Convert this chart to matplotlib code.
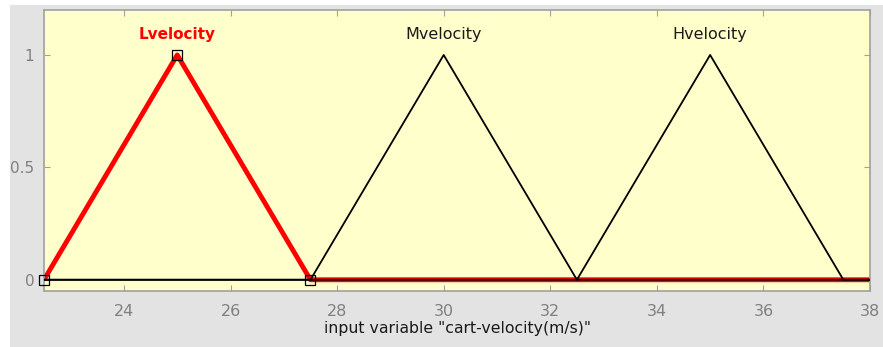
import numpy as np
import matplotlib.pyplot as plt
from matplotlib.patches import Rectangle

# membership function parameters (trimf a, b, c)
mf_names = ["Lvelocity", "Mvelocity", "Hvelocity"]
mf_params = [[22.5, 25.0, 27.5], [27.5, 30.0, 32.5], [32.5, 35.0, 37.5]]
x_range = [22.5, 38.0]
x_ticks = [24, 26, 28, 30, 32, 34, 36, 38]
y_ticks = [0, 0.5, 1]
selected = 0

fig = plt.figure(figsize=(8.83, 3.47), dpi=100, facecolor="#e3e3e3")
# white strips at left and top
fig.patches.append(Rectangle((0, 0), 10 / 883, 1, transform=fig.transFigure,
                             facecolor="white", edgecolor="none", zorder=0))
fig.patches.append(Rectangle((0, 1 - 5 / 347), 1, 5 / 347, transform=fig.transFigure,
                             facecolor="white", edgecolor="none", zorder=0))

ax = fig.add_axes([44 / 883, 56 / 347, 826 / 883, 281 / 347])
ax.set_facecolor("#ffffcc")


def trimf(x, p):
    a, b, c = p
    return np.maximum(np.minimum((x - a) / (b - a), (c - x) / (c - b)), 0)


x = np.unique(np.concatenate([np.linspace(x_range[0], x_range[1], 400),
                              np.ravel(mf_params)]))

# selected MF first (thick red), others on top (thin black)
ax.plot(x, trimf(x, mf_params[selected]), color="#ff0000", lw=3.5,
        solid_capstyle="butt", zorder=2)
for i, p in enumerate(mf_params):
    if i != selected:
        ax.plot(x, trimf(x, p), color="black", lw=1.3, zorder=3)

# handles on the selected MF
sp = mf_params[selected]
ax.plot(sp, [0, 1, 0], ls="none", marker="s", ms=7.5, mfc="none",
        mec="black", mew=0.9, zorder=4, clip_on=False)

for i, (name, p) in enumerate(zip(mf_names, mf_params)):
    if i == selected:
        ax.text(p[1], 1.09, name, color="#ff0000", fontweight="bold",
                fontsize=11, ha="center", va="center")
    else:
        ax.text(p[1], 1.09, name, color="#1a1a1a", fontsize=11.5,
                ha="center", va="center")

ax.set_xlim(x_range)
ax.set_ylim(-0.05, 1.2)
ax.set_xticks(x_ticks)
ax.set_yticks(y_ticks)
ax.set_yticklabels(["0", "0.5", "1"])
ax.tick_params(direction="in", top=True, right=True, colors="#a0a0a0",
               labelcolor="#808080", labelsize=11.5, length=4)
ax.tick_params(axis="x", pad=9)
ax.tick_params(axis="y", pad=7, labelsize=11)
for s in ax.spines.values():
    s.set_color("#a0a0a0")
    s.set_linewidth(1.2)
ax.set_xlabel('input variable "cart-velocity(m/s)"', fontsize=11.3,
              color="#1a1a1a", labelpad=2)

fig.savefig("out.png", dpi=100, facecolor=fig.get_facecolor())
